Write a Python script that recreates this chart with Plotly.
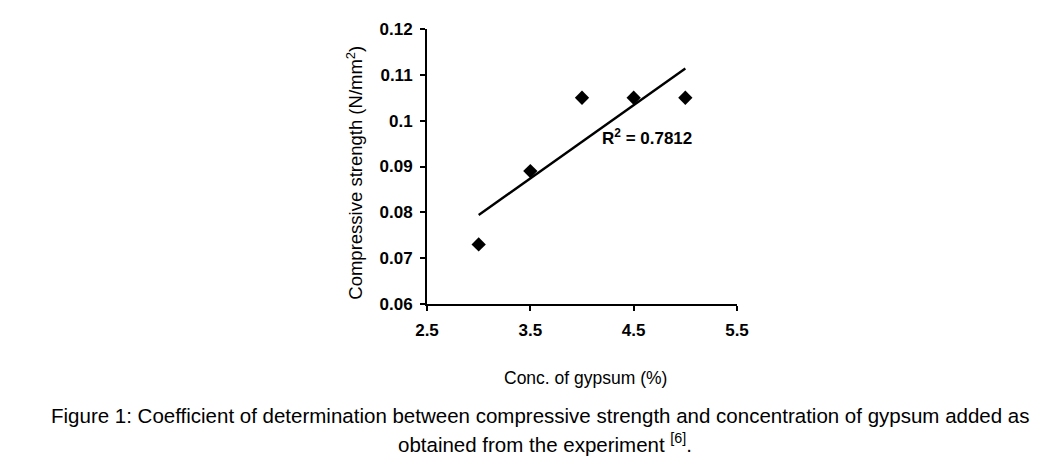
import numpy as np
import plotly.graph_objects as go

conc = [3.0, 3.5, 4.0, 4.5, 5.0]
strength = [0.073, 0.089, 0.105, 0.105, 0.105]
x_ticks = [2.5, 3.5, 4.5, 5.5]
y_ticks = [0.06, 0.07, 0.08, 0.09, 0.10, 0.11, 0.12]
y_tick_text = ["0.06", "0.07", "0.08", "0.09", "0.1", "0.11", "0.12"]

slope, intercept = np.polyfit(conc, strength, 1)
fit_x = [min(conc), max(conc)]
fit_y = [slope * v + intercept for v in fit_x]
pred = [slope * v + intercept for v in conc]
mean_y = np.mean(strength)
r2 = 1 - sum((a - b) ** 2 for a, b in zip(strength, pred)) / sum((a - mean_y) ** 2 for a in strength)

fig = go.Figure()
fig.add_trace(go.Scatter(x=fit_x, y=fit_y, mode="lines",
                         line=dict(color="black", width=2.4), hoverinfo="skip"))
fig.add_trace(go.Scatter(x=conc, y=strength, mode="markers",
                         marker=dict(symbol="diamond", size=11, color="black")))

ARIAL = "Liberation Sans, Arial, sans-serif"
tickfont = dict(family=ARIAL, size=17, color="black", weight="bold")
fig.update_layout(
    width=1048, height=460,
    margin=dict(l=419, r=319, t=13, b=164),
    paper_bgcolor="white", plot_bgcolor="white",
    showlegend=False,
    xaxis=dict(range=[2.5, 5.5], tickvals=x_ticks, ticktext=[str(v) for v in x_ticks],
               showgrid=False, zeroline=False, showline=True, linecolor="black", linewidth=2,
               ticks="outside", ticklen=5, tickwidth=2, tickcolor="black", tickfont=tickfont,
               ticklabelstandoff=5),
    yaxis=dict(range=[0.06, 0.12], tickvals=y_ticks, ticktext=y_tick_text,
               showgrid=False, zeroline=False, showline=True, linecolor="black", linewidth=2,
               ticks="outside", ticklen=5, tickwidth=2, tickcolor="black", tickfont=tickfont,
               ticklabelstandoff=4),
    annotations=[
        dict(x=4.174, y=0.0965, xref="x", yref="y", xanchor="left", yanchor="middle",
             text="R<sup>2</sup> = %.4f" % (np.floor(r2 * 10000) / 10000), showarrow=False,
             font=dict(family=ARIAL, size=17, color="black", weight="bold")),
        dict(x=-0.235, y=0.478, xref="paper", yref="paper", textangle=-90, showarrow=False,
             xanchor="center", yanchor="middle",
             text="Compressive strength (N/mm<sup>2</sup>)",
             font=dict(family=ARIAL, size=18.5, color="black")),
        dict(x=0.510, y=-0.270, xref="paper", yref="paper", showarrow=False,
             xanchor="center", yanchor="middle",
             text="Conc. of gypsum (%)",
             font=dict(family=ARIAL, size=17.5, color="black")),
        dict(x=0.365, y=-0.405, xref="paper", yref="paper", showarrow=False,
             xanchor="center", yanchor="middle",
             text="Figure 1: Coefficient of determination between compressive strength and concentration of gypsum added as",
             font=dict(family=ARIAL, size=20.5, color="black")),
        dict(x=0.381, y=-0.507, xref="paper", yref="paper", showarrow=False,
             xanchor="center", yanchor="middle",
             text="obtained from the experiment <sup>[6]</sup>.",
             font=dict(family=ARIAL, size=20.5, color="black")),
    ],
)
fig.write_html("out.html")
